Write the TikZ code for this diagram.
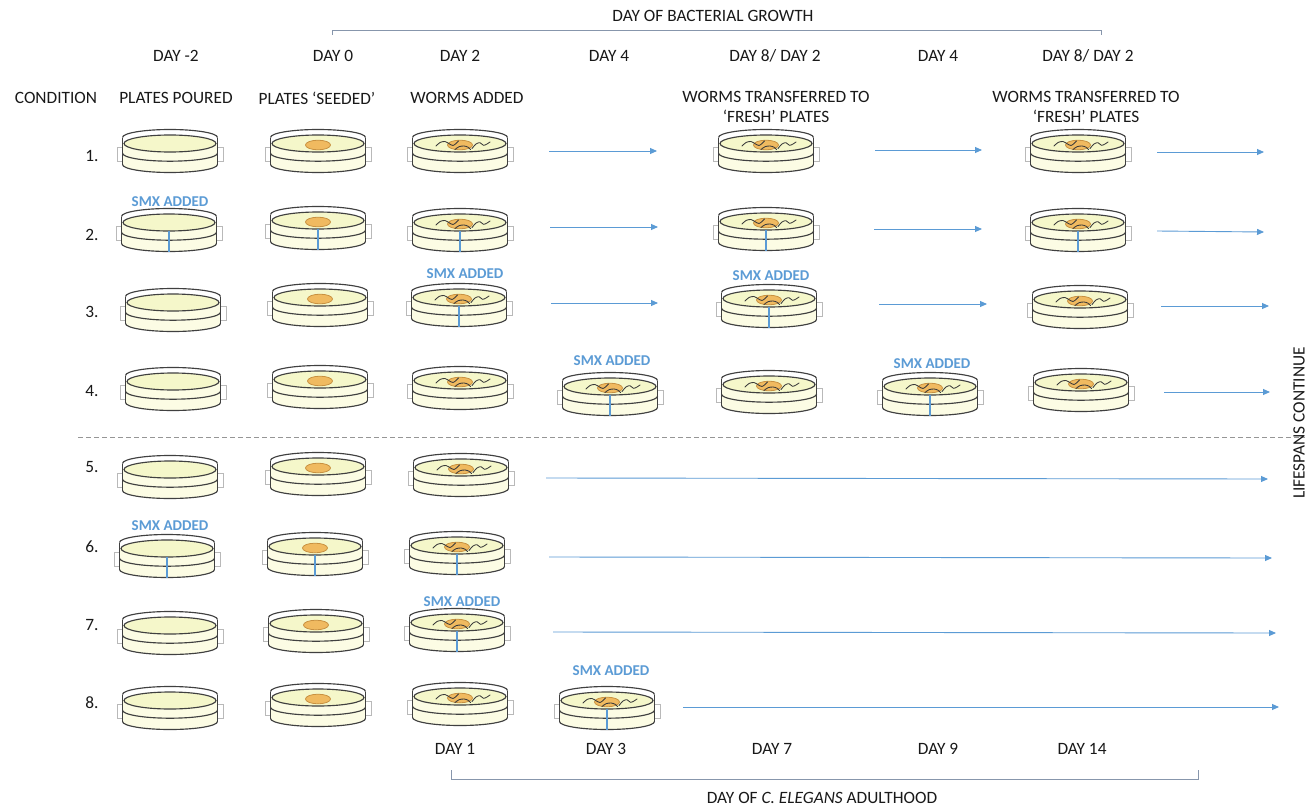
\documentclass[tikz,border=0pt]{standalone}
\usepackage{fontspec}
\setmainfont{Carlito}
\usetikzlibrary{arrows.meta}

\definecolor{rim}{RGB}{64,64,64}
\definecolor{agar}{RGB}{245,247,202}
\definecolor{bodyfill}{RGB}{252,252,228}
\definecolor{lawn}{RGB}{240,186,96}
\definecolor{lawnedge}{RGB}{200,145,65}
\definecolor{smx}{RGB}{91,155,213}
\definecolor{tabgray}{RGB}{185,185,185}
\definecolor{brace}{RGB}{135,150,172}
\definecolor{ink}{RGB}{25,25,25}
\definecolor{dashgray}{RGB}{150,150,150}

\tikzset{
  rimline/.style={draw=rim, line width=1.15pt},
  wormline/.style={draw=rim!90!black, line width=0.85pt, line cap=round},
  txt/.style={font=\fontsize{17.3}{20}\selectfont, text=ink, inner sep=0pt},
  smxlabel/.style={font=\bfseries\fontsize{15}{17}\selectfont, text=smx, inner sep=0pt},
  flow/.style={draw=smx, line width=0.9pt, -{Triangle[length=7pt,width=6pt]}},
  bracket/.style={draw=brace, line width=0.8pt},
  % empty Petri dish with agar
  dish/.pic={
    \draw[tabgray, line width=0.8pt] (-53,-3.5) rectangle (53,10.5);
    \fill[bodyfill] (-47.5,-7.8) -- (-47.5,13.5)
      arc[start angle=180, end angle=360, x radius=47.5pt, y radius=8pt]
      -- (47.5,-7.8) -- cycle;
    \filldraw[fill=agar, rimline] (0,-7.5) ellipse [x radius=46pt, y radius=8.5pt];
    \draw[rimline] (-47.5,-13.5)
      arc[start angle=180, end angle=0, x radius=47.5pt, y radius=8pt];
    \draw[rimline] (-47.5,-13.5) -- (-47.5,13.5);
    \draw[rimline] (47.5,-13.5) -- (47.5,13.5);
    \draw[rimline] (-47.5,2.2)
      arc[start angle=180, end angle=360, x radius=47.5pt, y radius=8pt];
    \draw[rimline] (-47.5,13.5)
      arc[start angle=180, end angle=360, x radius=47.5pt, y radius=8pt];
  },
  % bacterial lawn seeded in the centre
  lawnspot/.pic={
    \filldraw[fill=lawn, draw=lawnedge, line width=0.8pt] (0,-6) ellipse [x radius=12.5pt, y radius=4.8pt];
  },
  % worms crawling on the lawn
  worms/.pic={
    \draw[wormline] plot[smooth] coordinates {(-24,-5) (-20,-8.5) (-15,-9.5) (-10.5,-7) (-7,-5.5) (-4,-7.5) (-1.5,-10)};
    \draw[wormline] plot[smooth] coordinates {(-5,-1.5) (-1,-4.3) (4,-5) (8,-3.8) (10.5,-1.5)};
    \draw[wormline] plot[smooth] coordinates {(12,-2.5) (16,-7) (20,-8.3) (23.5,-5.7) (27,-7) (30,-9)};
  },
  % drug added to the agar
  smxbar/.pic={
    \draw[smx, line width=2.8pt] (0,0.5) -- (0,21.5);
  },
}

\begin{document}
\begin{tikzpicture}[x=1pt, y=-1pt]
\useasboundingbox (0,0) rectangle (1316,808);
\fill[white] (0,0) rectangle (1316,808);

% ---- top axis: bacterial growth
\coordinate (tgL) at (332,35);
\coordinate (tgR) at (1101,35);
\draw[bracket] (tgL) -- ++(0,-5) -| (tgR);
\node[txt] (tgt) at (713,16) {DAY OF BACTERIAL GROWTH};

\node[txt] (d1) at (176,56) {DAY -2};
\node[txt] (d2) at (333,56) {DAY 0};
\node[txt] (d3) at (460,56) {DAY 2};
\node[txt] (d4) at (609,56) {DAY 4};
\node[txt] (d5) at (775,56) {DAY 8/ DAY 2};
\node[txt] (d6) at (938,56) {DAY 4};
\node[txt] (d7) at (1088,56) {DAY 8/ DAY 2};

\node[txt] (h0) at (56,98) {CONDITION};
\node[txt] (h1) at (176,98) {PLATES POURED};
\node[txt] (h2) at (317,98) {PLATES ‘SEEDED’};
\node[txt] (h3) at (467,98) {WORMS ADDED};
\node[txt, align=center] (h4) at (776,107) {WORMS TRANSFERRED TO\\‘FRESH’ PLATES};
\node[txt, align=center] (h5) at (1086,107) {WORMS TRANSFERRED TO\\‘FRESH’ PLATES};

% ---- condition numbers
\foreach \k/\y in {1/156,2/235,3/312,4/391,5/467,6/547,7/625,8/703}
  \node[txt] (c\k) at (92,\y) {\k.};

% ---- plates: name / x / y / stage (0 agar, 1 lawn, 2 worms) / drug
\foreach \n/\x/\y/\st/\s in {
  r1a/170/151/0/0, r1b/318/151/1/0, r1c/460/151/2/0, r1d/766/151/2/0, r1e/1078/151/2/0,
  r2a/169/230/0/1, r2b/318/228/1/1, r2c/460/230/2/1, r2d/766/229/2/1, r2e/1078/230/2/1,
  r3a/173/310/0/0, r3b/320/305/1/0, r3c/459/305/2/1, r3d/769/306/2/1, r3e/1080/307/2/0,
  r4a/173/389/0/0, r4b/320/387/1/0, r4c/460/388/2/0, r4p/610/394/2/1, r4d/769/392/2/0, r4q/930/394/2/1, r4e/1081/390/2/0,
  r5a/170/477/0/0, r5b/318/474/1/0, r5c/461/475/2/0,
  r6a/167/556/0/1, r6b/315/554/1/1, r6c/457/553/2/1,
  r7a/170/633/0/0, r7b/316/631/1/0, r7c/457/630/2/1,
  r8a/170/708/0/0, r8b/318/705/1/0, r8c/460/704/2/0, r8p/607/708/2/1}
{
  \coordinate (\n) at (\x,\y);
  \pic at (\n) {dish};
  \ifnum\st>0 \pic at (\n) {lawnspot}; \fi
  \ifnum\st>1 \pic at (\n) {worms}; \fi
  \ifnum\s>0 \pic at (\n) {smxbar}; \fi
}

% ---- drug labels
\foreach \n/\x/\y in {s1/170/202, s2/465/274, s3/771/276, s4/612/361,
                      s5/932/364, s6/170/526, s7/462/602, s8/611/671}
  \node[smxlabel] (\n) at (\x,\y) {SMX ADDED};

% ---- transfer arrows
\foreach \i/\xa/\ya/\xb/\yb in {
  1/549/151/657/151, 2/875/150/982/150, 3/1157/152/1264/152,
  4/550/227/658/227, 5/874/229/982/229, 6/1157/231/1264/232,
  7/551/303/658/303, 8/879/304/987/304, 9/1161/306/1269/306,
  10/1164/392/1270/392,
  11/546/478/1268/479, 12/549/557/1272/558, 13/553/632/1276/633, 14/683/707/1279/707}
{
  \coordinate (f\i s) at (\xa,\ya);
  \coordinate (f\i e) at (\xb,\yb);
  \draw[flow] (f\i s) -- (f\i e);
}

% ---- split between the two groups
\coordinate (dl) at (78,437);
\coordinate (dr) at (1305,437);
\draw[dashgray, line width=0.8pt, dash pattern=on 5pt off 3pt] (dl) -- (dr);

\node[txt, rotate=90] (lc) at (1299,423) {LIFESPANS CONTINUE};

% ---- bottom axis: adulthood
\node[txt] (b1) at (455,749) {DAY 1};
\node[txt] (b2) at (606,749) {DAY 3};
\node[txt] (b3) at (772,749) {DAY 7};
\node[txt] (b4) at (938,749) {DAY 9};
\node[txt] (b5) at (1082,749) {DAY 14};

\coordinate (bgL) at (451,770);
\coordinate (bgR) at (1198,770);
\draw[bracket] (bgL) -- ++(0,9) -| (bgR);
\node[txt] (bgt) at (822,798) {DAY OF \textit{C. ELEGANS} ADULTHOOD};
\end{tikzpicture}
\end{document}
